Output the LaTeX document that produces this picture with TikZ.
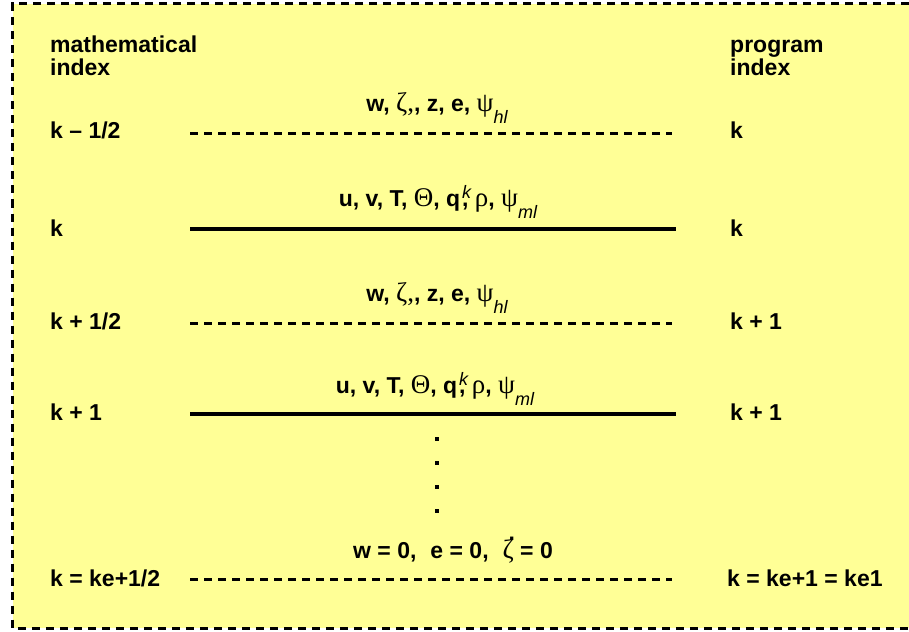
\documentclass[tikz,border=0pt]{standalone}
\usepackage{fontspec}
\setmainfont{Liberation Sans}
\newfontfamily\gkfont{Liberation Serif}
\definecolor{padyellow}{RGB}{255,255,150}
\newcommand\grk[1]{{\gkfont\mdseries\fontsize{27}{27}\selectfont #1}}
\newcommand\subit[1]{\raisebox{-12pt}{\fontsize{18}{18}\selectfont\mdseries\itshape #1}}
\newcommand\supk{\hspace{2pt}\rlap{\raisebox{8pt}{\fontsize{18}{18}\selectfont\mdseries\itshape k}}}
\newcommand\zetadot{\rlap{\hspace{6pt}\raisebox{18pt}{.}}\grk{ζ}}
\tikzset{
  lbl/.style={anchor=base west, inner sep=0pt, font=\fontsize{23}{23}\selectfont\bfseries},
  hdr/.style={anchor=north west, inner sep=0pt, align=left, font=\fontsize{23}{23}\selectfont\bfseries},
  toplbl/.style={anchor=base, inner sep=0pt, font=\fontsize{23}{23}\selectfont\bfseries},
  halflevel/.style={line width=3pt, dash pattern=on 8pt off 6pt},
  fulllevel/.style={line width=3.5pt},
  dotsq/.style={fill=black, inner sep=0pt, minimum width=4pt, minimum height=4pt},
  frame/.style={line width=3pt, dash pattern=on 8pt off 6pt},
}
\begin{document}
\begin{tikzpicture}[x=1pt,y=-1pt]
\useasboundingbox (0,0) rectangle (909,631);
\fill[white] (0,0) rectangle (909,631);
\fill[padyellow] (12.5,4) rectangle (909,628);
\draw[frame] (909,4) -- (12.5,4) -- (12.5,628) -- (909,628);

% headers
\node[hdr] (mh) at (50,36) {\vphantom{h}mathematical\\index};
\node[hdr] (ph) at (730,36) {\vphantom{h}program\\index};

% level coordinates
\coordinate (a1) at (190,134); \coordinate (b1) at (672,134);
\coordinate (a2) at (190,229); \coordinate (b2) at (676,229);
\coordinate (a3) at (190,323); \coordinate (b3) at (672,323);
\coordinate (a4) at (190,414); \coordinate (b4) at (676,414);
\coordinate (a5) at (190,579); \coordinate (b5) at (672,579);

\draw[halflevel] (a1) -- (b1);
\draw[fulllevel] (a2) -- (b2);
\draw[halflevel] (a3) -- (b3);
\draw[fulllevel] (a4) -- (b4);
\draw[halflevel] (a5) -- (b5);

% left labels
\node[lbl] (m1) at (50,139) {k – 1/2};
\node[lbl] (m2) at (50,236) {k};
\node[lbl] (m3) at (50,329) {k + 1/2};
\node[lbl] (m4) at (50,420) {k + 1};
\node[lbl] (m5) at (50,586) {k = ke+1/2};

% right labels
\node[lbl] (p1) at (730,139) {k};
\node[lbl] (p2) at (730,236) {k};
\node[lbl] (p3) at (730,329) {k + 1};
\node[lbl] (p4) at (730,420) {k + 1};
\node[lbl] (p5) at (727,586) {k = ke+1 = ke1};

% variable labels
\node[toplbl] (v1) at (437,112) {w, \grk{ζ,}, z, e, \grk{ψ}\subit{hl}};
\node[toplbl] (v2) at (438,206) {u, v, T, \grk{Θ}, q\supk, \grk{ρ}, \grk{ψ}\subit{ml}};
\node[toplbl] (v3) at (437,301) {w, \grk{ζ,}, z, e, \grk{ψ}\subit{hl}};
\node[toplbl] (v4) at (435,393) {u, v, T, \grk{Θ}, q\supk, \grk{ρ}, \grk{ψ}\subit{ml}};
\node[toplbl] (v5) at (453,558) {w = 0,\hspace{14pt}e = 0,\hspace{14pt}\zetadot\ = 0};

% continuation dots
\node[dotsq] (d1) at (437,439) {};
\node[dotsq] (d2) at (437,463) {};
\node[dotsq] (d3) at (437,487) {};
\node[dotsq] (d4) at (437,511) {};
\end{tikzpicture}
\end{document}
